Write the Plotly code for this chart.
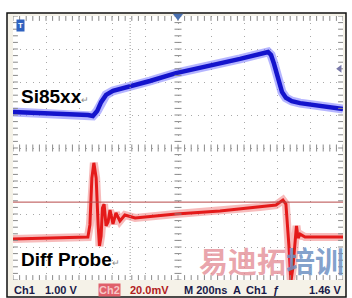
import plotly.graph_objects as go

# ---- data (time in divisions 0..10, amplitude in divisions -4..4) ----
ch1_t = [0, 1.12, 2.27, 2.42, 2.55, 2.67, 2.82, 3.03, 3.64, 4.15, 4.94, 5.97, 6.88, 7.73,
         7.82, 7.91, 8.03, 8.15, 8.27, 8.45, 8.70, 9.30, 10.0]
ch1_v = [1.09, 1.06, 1.00, 0.97, 1.12, 1.39, 1.61, 1.73, 1.88, 2.03, 2.27, 2.48, 2.70, 2.91,
         2.82, 2.55, 2.06, 1.70, 1.52, 1.42, 1.36, 1.27, 1.18]

ch2_t = [0, 1.12, 2.27, 2.33, 2.39, 2.45, 2.52, 2.58, 2.62, 2.67, 2.71, 2.76, 2.82, 2.88,
         2.94, 3.03, 3.12, 3.24, 3.39, 3.70, 4.94, 6.27, 7.48, 7.97, 8.18, 8.27, 8.36, 8.42,
         8.48, 8.55, 8.59, 8.64, 8.70, 8.85, 10.0]
ch2_v = [-2.76, -2.73, -2.70, -2.33, -0.91, -0.45, -0.91, -2.33, -2.97, -2.67, -1.82, -1.70,
         -2.36, -2.24, -1.88, -2.30, -1.97, -2.21, -2.03, -2.12, -2.00, -1.91, -1.79, -1.73,
         -1.58, -1.70, -2.94, -4.06, -3.64, -2.79, -2.36, -2.73, -2.61, -2.70, -2.70]

cursor_t = 3.55
ref_level = -1.64

status_left = ["Ch1", "1.00 V", "Ch2", "20.0mV", "M 200ns", "A", "Ch1", "ƒ", "1.46 V"]

W, H = 352, 298
L, R, T, B = 13, 343, 16, 280


def px(x):
    return (x - L) / (R - L)


def py(y):
    return (B - y) / (B - T)


fig = go.Figure()

# halos + cores
fig.add_trace(go.Scatter(x=ch1_t, y=ch1_v, mode="lines",
                         line=dict(color="rgba(120,120,255,0.55)", width=9),
                         hoverinfo="skip", showlegend=False))
fig.add_trace(go.Scatter(x=ch1_t, y=ch1_v, mode="lines",
                         line=dict(color="#1414cc", width=4.5),
                         hoverinfo="skip", showlegend=False))
fig.add_trace(go.Scatter(x=ch2_t, y=ch2_v, mode="lines",
                         line=dict(color="rgba(240,120,120,0.5)", width=8),
                         hoverinfo="skip", showlegend=False))
fig.add_trace(go.Scatter(x=ch2_t, y=ch2_v, mode="lines",
                         line=dict(color="#e41a1a", width=3),
                         hoverinfo="skip", showlegend=False))

# graticule ticks on centre lines
minor_x = [i * 0.2 for i in range(51)]
minor_y = [-4 + i * 0.2 for i in range(41)]
fig.add_trace(go.Scatter(x=minor_x, y=[0] * len(minor_x), mode="markers",
                         marker=dict(symbol="line-ns", size=5, line=dict(color="#8a8a8a", width=1)),
                         hoverinfo="skip", showlegend=False))
fig.add_trace(go.Scatter(x=[5] * len(minor_y), y=minor_y, mode="markers",
                         marker=dict(symbol="line-ew", size=5, line=dict(color="#8a8a8a", width=1)),
                         hoverinfo="skip", showlegend=False))
# edge ticks (half clipped -> inward)
fig.add_trace(go.Scatter(x=minor_x * 2, y=[4] * len(minor_x) + [-4] * len(minor_x), mode="markers",
                         marker=dict(symbol="line-ns", size=7, line=dict(color="#8a8a8a", width=1)),
                         hoverinfo="skip", showlegend=False))
fig.add_trace(go.Scatter(x=[0] * len(minor_y) + [10] * len(minor_y), y=minor_y * 2, mode="markers",
                         marker=dict(symbol="line-ew", size=7, line=dict(color="#8a8a8a", width=1)),
                         hoverinfo="skip", showlegend=False))

# markers: trigger position, trigger level, reference
fig.add_trace(go.Scatter(x=[5], y=[4], mode="markers", cliponaxis=False,
                         marker=dict(symbol="triangle-down", size=9, color="#4a70b0"),
                         hoverinfo="skip", showlegend=False))
fig.add_trace(go.Scatter(x=[9.9], y=[2.4], mode="markers", cliponaxis=False,
                         marker=dict(symbol="triangle-left", size=7, color="#7878a8"),
                         hoverinfo="skip", showlegend=False))
fig.add_trace(go.Scatter(x=[-0.04, -0.04], y=[1.06, -2.73], mode="markers", cliponaxis=False,
                         marker=dict(symbol="triangle-right-open", size=6, color="#9090a0",
                                     line=dict(width=1)),
                         hoverinfo="skip", showlegend=False))

shapes = [
    dict(type="rect", xref="paper", yref="paper", x0=px(7), x1=px(346), y0=py(297), y1=py(13),
         fillcolor="#f5f2e8", line=dict(color="#111111", width=1.5), layer="below"),
    dict(type="rect", xref="paper", yref="paper", x0=0, x1=1, y0=0, y1=1,
         fillcolor="white", line=dict(width=0), layer="below"),
    dict(type="line", xref="x", yref="paper", x0=cursor_t, x1=cursor_t, y0=0, y1=1,
         line=dict(color="#9a9a9a", width=1, dash="1px,2px")),
    dict(type="line", xref="paper", yref="y", x0=0, x1=1, y0=ref_level, y1=ref_level,
         line=dict(color="#b84848", width=1)),
]

ann = []
font_lbl = dict(family="Liberation Sans, Arial", size=19, color="black")
ann.append(dict(x=px(19), y=py(97), xref="paper", yref="paper", xanchor="left", yanchor="middle",
                text="<b>Si85xx</b><span style='font-size:9px;color:#888'>↵</span>",
                showarrow=False, font=font_lbl))
ann.append(dict(x=px(19), y=py(259), xref="paper", yref="paper", xanchor="left", yanchor="middle",
                text="<b>Diff Probe</b><span style='font-size:9px;color:#888'>↵</span>",
                showarrow=False, font=font_lbl))

# watermark
ann.append(dict(x=px(197), y=py(260), xref="paper", yref="paper", xanchor="left", yanchor="middle",
                text="<span style='color:rgba(228,140,150,0.8)'>易迪拓</span>"
                     "<span style='color:rgba(110,145,195,0.85)'>培训</span>",
                showarrow=False,
                font=dict(family="Noto Sans CJK SC", size=29, weight="bold")))

# badge
ann.append(dict(x=px(20), y=py(26), xref="paper", yref="paper", xanchor="center", yanchor="middle",
                text="<b>T</b>", showarrow=False, bgcolor="#2f62c0", borderpad=1,
                font=dict(family="Liberation Sans, Arial", size=8, color="white")))

# status bar
status_x = [12, 43, 98, 128, 182, 231, 244, 271, 307]
status_col = ["#1a1a4a", "#1a1a4a", "#f6c6c6", "#b02020", "#1a1a4a", "#1a1a4a", "#1a1a4a",
              "#1a1a4a", "#1a1a4a"]
for i, (s, x) in enumerate(zip(status_left, status_x)):
    d = dict(x=px(x), y=py(289.5), xref="paper", yref="paper", xanchor="left", yanchor="middle",
             text="<b>%s</b>" % s, showarrow=False,
             font=dict(family="Liberation Sans, Arial", size=11, color=status_col[i]))
    if i == 2:
        d["bgcolor"] = "#e0606a"
        d["borderpad"] = 0
    ann.append(d)

dotdash = "1px,5.6px"
fig.update_layout(
    width=W, height=H, autosize=False,
    margin=dict(l=L, r=W - R, t=T, b=H - B, pad=0),
    paper_bgcolor="white", plot_bgcolor="white",
    xaxis=dict(range=[0, 10], dtick=1, showgrid=True, gridcolor="#a8a8a8", griddash=dotdash,
               gridwidth=1, zeroline=False, showticklabels=False, ticks="", showline=False,
               fixedrange=True),
    yaxis=dict(range=[-4, 4], dtick=1, showgrid=True, gridcolor="#a8a8a8", griddash=dotdash,
               gridwidth=1, zeroline=False, showticklabels=False, ticks="", showline=False,
               fixedrange=True),
    shapes=shapes, annotations=ann, showlegend=False,
)

fig.write_html("out.html", config={"displayModeBar": False})
